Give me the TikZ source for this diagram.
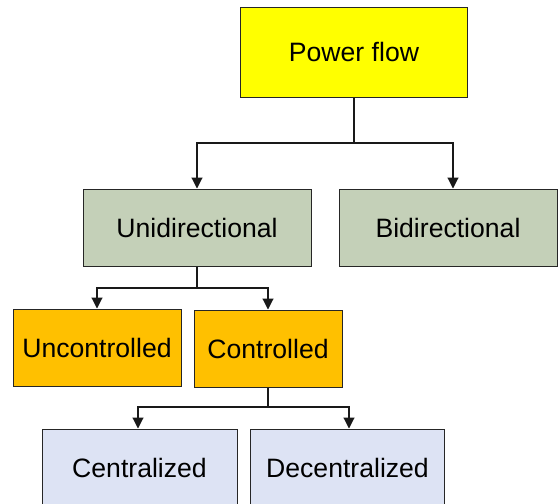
\documentclass[tikz,border=0pt]{standalone}
\usepackage{fontspec}
\setmainfont{Liberation Sans}
\usetikzlibrary{arrows.meta}
\definecolor{pfyellow}{RGB}{255,255,0}
\definecolor{dirgreen}{RGB}{196,208,184}
\definecolor{ctlorange}{RGB}{255,192,0}
\definecolor{modeblue}{RGB}{221,227,244}
\begin{document}
\begin{tikzpicture}[x=1pt,y=-1pt,
  box/.style={draw=black!85,line width=1pt,inner sep=0pt,
    font=\fontsize{26.6pt}{30pt}\selectfont},
  link/.style={line width=1.1pt,draw=black!90},
  arrowlink/.style={link,-{Triangle[width=11pt,length=11pt]}}]
\useasboundingbox (0,0) rectangle (558,504);
\fill[white] (0,0) rectangle (558,504);

% category boxes
\node[box,fill=pfyellow,minimum width=227pt,minimum height=90pt] (pf) at (354,52) {Power flow};
\node[box,fill=dirgreen,minimum width=228pt,minimum height=77pt] (uni) at (197,227.5) {Unidirectional};
\node[box,fill=dirgreen,minimum width=218pt,minimum height=77pt] (bi) at (448,227.5) {Bidirectional};
\node[box,fill=ctlorange,minimum width=168pt,minimum height=77pt] (unc) at (97,347.5) {Uncontrolled};
\node[box,fill=ctlorange,minimum width=148pt,minimum height=77pt] (ctl) at (268,348.5) {Controlled};
\node[box,fill=modeblue,minimum width=195pt,minimum height=77pt] (cen) at (139.5,467.5) {Centralized};
\node[box,fill=modeblue,minimum width=194pt,minimum height=77pt] (dec) at (347.5,467.5) {Decentralized};

% branch points
\coordinate (j1) at (354,143);
\coordinate (j2) at (197,288);
\coordinate (j3) at (268,407);

% connectors
\draw[link] (pf.south) -- (j1);
\draw[arrowlink] (j1) -| (uni.north);
\draw[arrowlink] (j1) -| ([xshift=5pt]bi.north);
\draw[link] (uni.south) -- (j2);
\draw[arrowlink] (j2) -| (unc.north);
\draw[arrowlink] (j2) -| (ctl.north);
\draw[link] (ctl.south) -- (j3);
\draw[arrowlink] (j3) -| ([xshift=-1.5pt]cen.north);
\draw[arrowlink] (j3) -| ([xshift=1.5pt]dec.north);
\end{tikzpicture}
\end{document}
